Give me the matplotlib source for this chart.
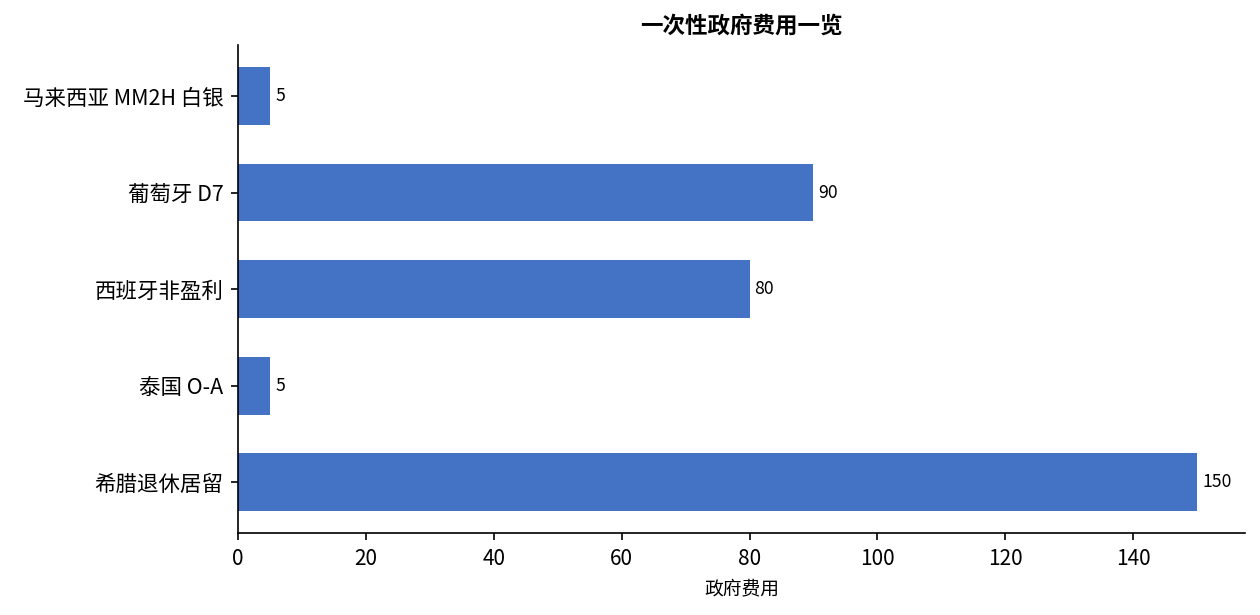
import matplotlib.pyplot as plt

plt.rcParams['font.family'] = ['Noto Sans CJK SC', 'DejaVu Sans']

# data, bottom to top
programs = ['希腊退休居留', '泰国 O-A', '西班牙非盈利', '葡萄牙 D7', '马来西亚 MM2H 白银']
fees = [150, 5, 80, 90, 5]

fig, ax = plt.subplots(figsize=(8.4, 4.1), dpi=150)
fig.subplots_adjust(left=0.189, right=0.988, top=0.927, bottom=0.133)

bars = ax.barh(programs, fees, height=0.6, color='#4472C4')
for bar, v in zip(bars, fees):
    ax.text(bar.get_width() + 0.8, bar.get_y() + bar.get_height() / 2, str(v),
            va='center', ha='left', fontsize=8.5)

ax.set_title('一次性政府费用一览', fontsize=10.8, fontweight='bold')
ax.set_xlabel('政府费用', fontsize=9)
ax.tick_params(axis='y', labelsize=10.3)
ax.tick_params(axis='x', labelsize=10)
ax.spines['top'].set_visible(False)
ax.spines['right'].set_visible(False)

fig.savefig('out.png')
